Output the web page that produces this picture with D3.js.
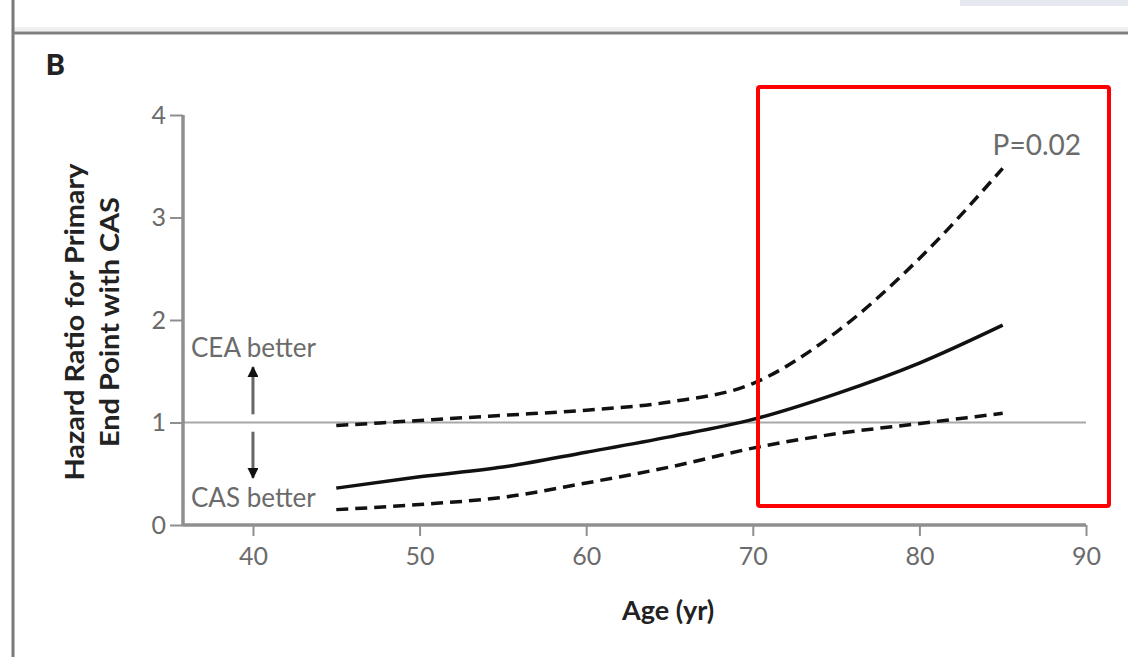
<!DOCTYPE html>
<html><head><meta charset="utf-8">
<script src="https://cdn.jsdelivr.net/npm/d3@7"></script>
<style>html,body{margin:0;padding:0;background:#fff;overflow:hidden}</style>
</head><body>
<svg id="c" width="1128" height="657"></svg>
<script>
const ages = [45, 50, 55, 60, 65, 70, 75, 80, 85];
const hrEstimate = [0.36, 0.47, 0.565, 0.71, 0.86, 1.03, 1.28, 1.58, 1.95];
const hrUpper = [0.97, 1.02, 1.07, 1.12, 1.2, 1.38, 1.88, 2.6, 3.48];
const hrLower = [0.15, 0.20, 0.27, 0.41, 0.565, 0.75, 0.89, 0.99, 1.09];
const xTicks = [40, 50, 60, 70, 80, 90];
const yTicks = [0, 1, 2, 3, 4];

const svg = d3.select("#c");
const x = d3.scaleLinear().domain([35.8, 90]).range([183, 1086]);
const y = d3.scaleLinear().domain([0, 4]).range([525, 115]);
const gray = "#8f8f8f", txt = "#6b6b6b";
const font = "Lato, 'Open Sans', sans-serif";

// frame elements
svg.append("rect").attr("x", 960).attr("y", 0).attr("width", 168).attr("height", 6).attr("fill", "#e6e8ef");
svg.append("rect").attr("x", 14).attr("y", 27).attr("width", 1114).attr("height", 4).attr("fill", "#f0f0f0");
svg.append("line").attr("x1", 13).attr("x2", 13).attr("y1", 0).attr("y2", 657).attr("stroke", "#7a7a7a").attr("stroke-width", 3);
svg.append("line").attr("x1", 13).attr("x2", 1128).attr("y1", 33).attr("y2", 33).attr("stroke", "#7f7f7f").attr("stroke-width", 3);

svg.append("text").attr("x", 46).attr("y", 75).text("B")
  .attr("font-family", "Roboto, Arial, sans-serif").attr("font-weight", "bold").attr("font-size", 30).attr("fill", "#222");

// reference line at HR = 1
svg.append("line").attr("x1", x(35.8)).attr("x2", x(90)).attr("y1", y(1)).attr("y2", y(1))
  .attr("stroke", "#a8a8a8").attr("stroke-width", 2);

// axes
const yAxis = svg.append("g").attr("transform", `translate(${x(35.8)},0)`)
  .call(d3.axisLeft(y).tickValues(yTicks).tickSize(13).tickPadding(4).tickFormat(d3.format("d")));
const xAxis = svg.append("g").attr("transform", `translate(0,${y(0)})`)
  .call(d3.axisBottom(x).tickValues(xTicks).tickSize(11).tickPadding(11).tickFormat(d3.format("d")));
[yAxis, xAxis].forEach(g => {
  g.select(".domain").attr("stroke", gray).attr("stroke-width", 3.5);
  g.selectAll(".tick line").attr("stroke", gray).attr("stroke-width", 2);
  g.selectAll(".tick text").attr("fill", txt).attr("font-family", font).attr("font-size", 25);
});
yAxis.select(".domain").attr("d", `M0,${y(4)}V${y(0)}`);
xAxis.select(".domain").attr("d", `M${x(35.8)},0H${x(90)}`);

// curves
const line = d3.line().x((d, i) => x(ages[i])).y(d => y(d)).curve(d3.curveMonotoneX);
svg.append("path").datum(hrEstimate).attr("d", line).attr("fill", "none").attr("stroke", "#111").attr("stroke-width", 3.5);
[hrUpper, hrLower].forEach(s => {
  svg.append("path").datum(s).attr("d", line).attr("fill", "none").attr("stroke", "#111")
    .attr("stroke-width", 3.5).attr("stroke-dasharray", "12,7");
});

// arrows & labels
const defs = svg.append("defs");
defs.append("marker").attr("id", "ah").attr("viewBox", "0 0 10 10").attr("refX", 9).attr("refY", 5)
  .attr("markerWidth", 18).attr("markerHeight", 11).attr("markerUnits", "userSpaceOnUse").attr("orient", "auto")
  .append("path").attr("d", "M0,0L10,5L0,10Z").attr("fill", "#111");
svg.append("line").attr("x1", x(40)).attr("x2", x(40)).attr("y1", y(1.08)).attr("y2", y(1.54))
  .attr("stroke", "#666").attr("stroke-width", 3).attr("marker-end", "url(#ah)");
svg.append("line").attr("x1", x(40)).attr("x2", x(40)).attr("y1", y(0.91)).attr("y2", y(0.46))
  .attr("stroke", "#666").attr("stroke-width", 3).attr("marker-end", "url(#ah)");

svg.append("text").attr("x", 191).attr("y", 357).text("CEA better")
  .attr("font-family", font).attr("font-size", 26).attr("fill", txt);
svg.append("text").attr("x", 191).attr("y", 507).text("CAS better")
  .attr("font-family", font).attr("font-size", 26).attr("fill", txt);
svg.append("text").attr("x", 1081).attr("y", 155).attr("text-anchor", "end").text("P=0.02")
  .attr("font-family", font).attr("font-size", 28).attr("fill", txt);

// axis titles
svg.append("text").attr("x", 668).attr("y", 620).attr("text-anchor", "middle").text("Age (yr)")
  .attr("font-family", font).attr("font-weight", "bold").attr("font-size", 27).attr("fill", "#222");
const yt = svg.append("text").attr("transform", `translate(0,${y(1.98)}) rotate(-90)`)
  .attr("text-anchor", "middle").attr("font-family", font).attr("font-weight", "bold")
  .attr("font-size", 26).attr("fill", "#222");
yt.append("tspan").attr("x", 0).attr("y", 84).attr("textLength", 317).attr("lengthAdjust", "spacingAndGlyphs").text("Hazard Ratio for Primary");
yt.append("tspan").attr("x", 0).attr("y", 119).attr("textLength", 250).attr("lengthAdjust", "spacingAndGlyphs").text("End Point with CAS");

// red highlight box
svg.append("rect").attr("x", 758).attr("y", 87).attr("width", 351).attr("height", 419).attr("rx", 2)
  .attr("fill", "none").attr("stroke", "#ff0000").attr("stroke-width", 4);
</script>
</body></html>
